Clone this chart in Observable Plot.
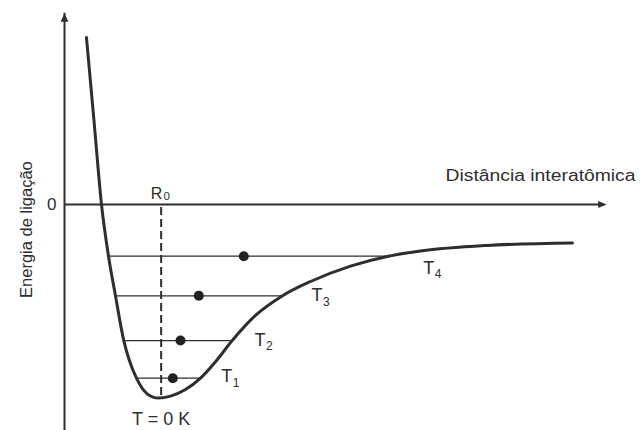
<!DOCTYPE html>
<html><head><meta charset="utf-8">
<script src="https://cdn.jsdelivr.net/npm/d3@7"></script>
<script src="https://cdn.jsdelivr.net/npm/@observablehq/plot@0.6"></script>
<style>
html,body{margin:0;padding:0;background:#fff;}
#chart svg{display:block;}
</style></head><body><div id="chart"></div>
<script>
// Potential-energy curve (distance units, energy units)
const curveX = [4.07, 5.46, 6.85, 8.15, 9.44, 10.98, 11.91, 13.33, 15.31, 17.41, 19.63, 22.41, 25.19, 27.96, 31.06, 35.37, 40.31, 45.56, 52.96, 59.76, 65.93, 78.33, 94.07];
const curveE = [8.65, 4.35, 0, -2.68, -4.73, -7.05, -7.99, -9.0, -9.81, -10.03, -9.93, -9.59, -9.0, -8.15, -7.05, -5.75, -4.74, -3.99, -3.19, -2.69, -2.41, -2.12, -1.99];

// Energy levels T1..T4
const levelSub = ["1", "2", "3", "4"];
const levelE = [-9.0, -7.05, -4.73, -2.68];
const levelX1 = [13.33, 10.98, 9.44, 8.15];
const levelX2 = [25.19, 31.06, 40.31, 59.76];
const particleX = [20.06, 21.48, 24.87, 33.2];
const levelLabelX = [29.02, 35.19, 45.74, 66.43];
const levelLabelE = [-9.21, -7.31, -5.01, -3.59];

// Equilibrium distance and minimum
const R0 = 17.9;
const Emin = -10.03;

// Axes extents
const xDomain = [0, 100];
const yDomain = [-11.71, 10.57];
const xAxisEnd = 100.4;
const yAxisTop = 9.91;
const yAxisBottom = -11.71;

// Texts
const xTitle = "Distância interatômica";
const yTitle = "Energia de ligação";
const zeroLabel = "0";
const groundLabel = "T = 0 K";
const xTitlePos = {x: 70.56, y: 1.21};
const yTitlePos = {x: -5.93, y: -1.30};
const groundLabelE = -11.45;

const curve = curveX.map((x, i) => ({x, y: curveE[i]}));
const levels = levelSub.map((s, i) => ({
  sub: s, y: levelE[i], x1: levelX1[i], x2: levelX2[i], px: particleX[i],
  lx: levelLabelX[i], ly: levelLabelE[i]
}));

const ink = "#2e2e2e";
const font = "Liberation Sans, Arial, Helvetica, sans-serif";

const arrowUp = {draw(ctx) { ctx.moveTo(0, 0); ctx.lineTo(3.9, 8.5); ctx.lineTo(-3.9, 8.5); ctx.closePath(); }};
const arrowRight = {draw(ctx) { ctx.moveTo(0, 0); ctx.lineTo(-8.5, -3.6); ctx.lineTo(-8.5, 3.6); ctx.closePath(); }};

const svg = Plot.plot({
  width: 641,
  height: 430,
  margin: 0,
  marginLeft: 64,
  marginRight: 37,
  x: {domain: xDomain, axis: null},
  y: {domain: yDomain, axis: null},
  style: {background: "white", fontFamily: font, overflow: "visible"},
  marks: [
    // axes
    Plot.ruleX([0], {y1: yAxisBottom, y2: yAxisTop, stroke: ink, strokeWidth: 2, insetTop: 4}),
    Plot.ruleY([0], {x1: 0, x2: xAxisEnd, stroke: ink, strokeWidth: 2, insetRight: 4}),
    Plot.dot([{x: 0, y: yAxisTop}], {x: "x", y: "y", symbol: arrowUp, fill: ink, stroke: "none"}),
    Plot.dot([{x: xAxisEnd, y: 0}], {x: "x", y: "y", symbol: arrowRight, fill: ink, stroke: "none"}),
    // R0 dashed line
    Plot.ruleX([R0], {y1: 0, y2: Emin, stroke: ink, strokeWidth: 2, strokeDasharray: "8,4", insetTop: 3}),
    // energy levels
    Plot.ruleY(levels, {y: "y", x1: "x1", x2: "x2", stroke: ink, strokeWidth: 1.3}),
    // curve
    Plot.line(curve, {x: "x", y: "y", curve: "monotone-x", stroke: ink, strokeWidth: 3}),
    // particles
    Plot.dot(levels, {x: "px", y: "y", r: 5, fill: "#222", stroke: "none"}),
    // level labels
    Plot.text(levels, {x: "lx", y: "ly", text: () => "T", textAnchor: "start", lineAnchor: "bottom", fontSize: 18, fill: ink}),
    Plot.text(levels, {x: "lx", y: "ly", text: "sub", textAnchor: "start", lineAnchor: "bottom", dx: 11.5, dy: 4.6, fontSize: 12, fill: ink}),
    // R0 label
    Plot.text([R0], {x: d => d, y: () => 0, text: () => "R", textAnchor: "start", lineAnchor: "bottom", dx: -10.3, dy: -5.7, fontSize: 16, fill: ink}),
    Plot.text([R0], {x: d => d, y: () => 0, text: () => "0", textAnchor: "start", lineAnchor: "bottom", dx: 2.3, dy: -4, fontSize: 11.5, fill: ink}),
    // zero label
    Plot.text([zeroLabel], {x: () => 0, y: () => 0, text: d => d, textAnchor: "end", dx: -8, fontSize: 17, fill: ink}),
    // ground state label
    Plot.text([groundLabel], {x: () => R0, y: () => groundLabelE, text: d => d, textAnchor: "middle", lineAnchor: "bottom", fontSize: 18, fill: ink}),
    // axis titles
    Plot.text([xTitle], {x: () => xTitlePos.x, y: () => xTitlePos.y, text: d => d, textAnchor: "start", lineAnchor: "bottom", fontSize: 16, fill: ink}),
    Plot.text([yTitle], {x: () => yTitlePos.x, y: () => yTitlePos.y, text: d => d, textAnchor: "middle", lineAnchor: "bottom", rotate: -90, fontSize: 16.5, fill: ink})
  ]
});

d3.select(svg).selectAll("text")
  .filter(function() { return this.textContent === xTitle; })
  .attr("textLength", 190)
  .attr("lengthAdjust", "spacingAndGlyphs");

document.getElementById("chart").appendChild(svg);
</script>
</body></html>
